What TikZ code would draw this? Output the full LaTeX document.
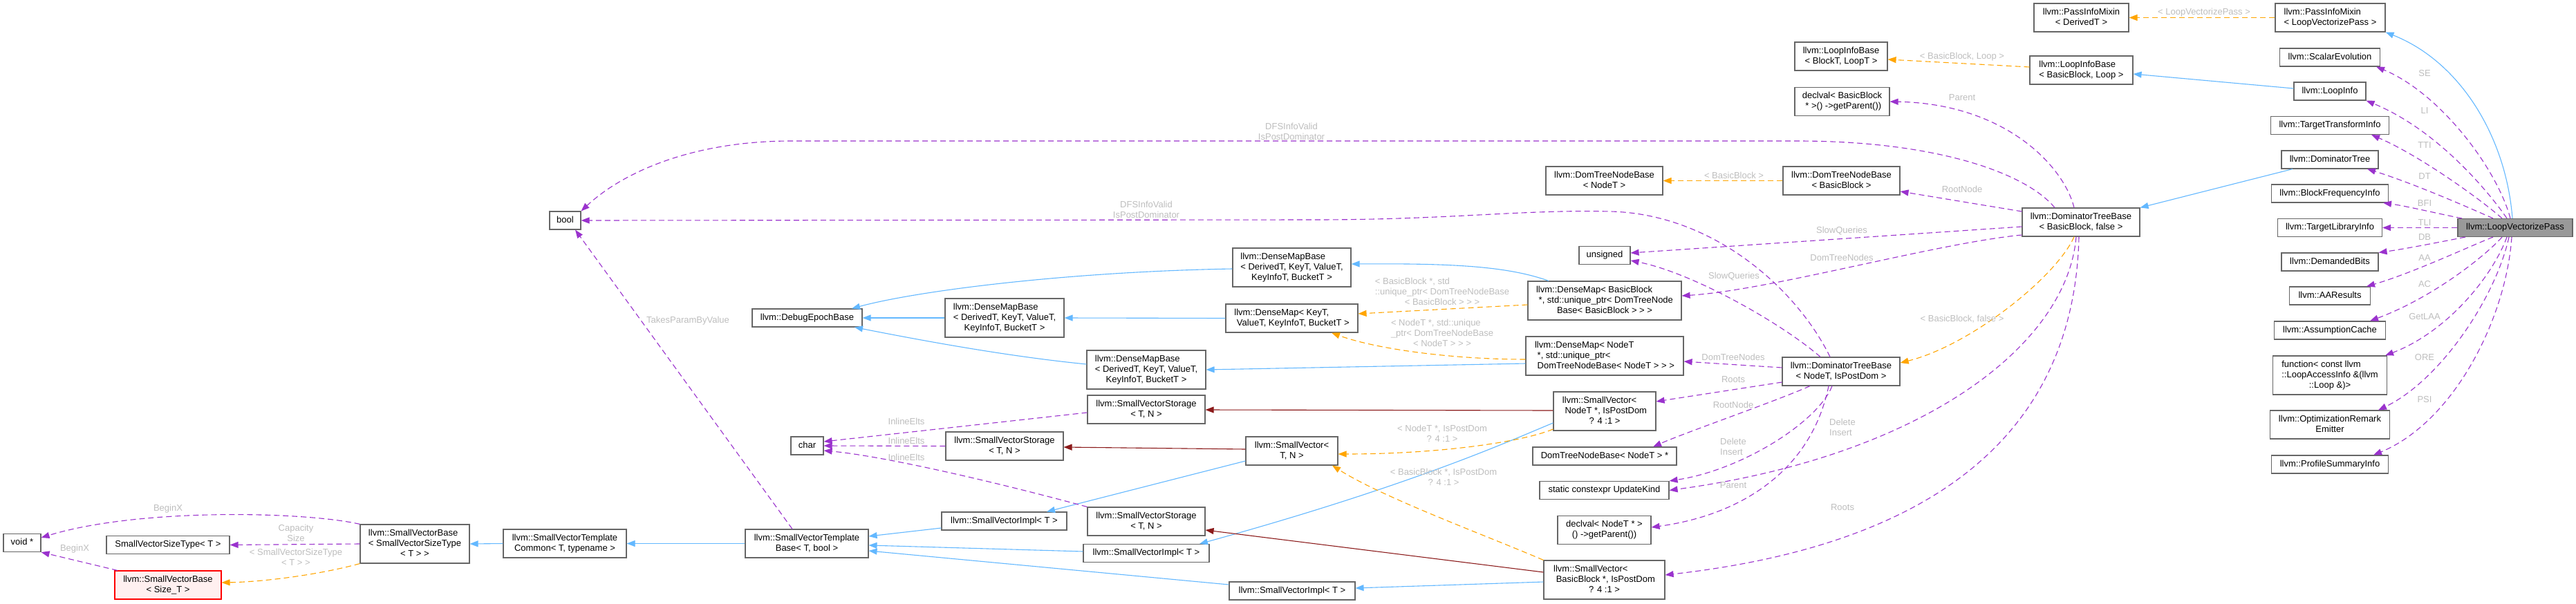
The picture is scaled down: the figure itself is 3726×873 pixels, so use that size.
\documentclass[tikz,border=0pt]{standalone}
\usepackage{fontspec}
\setmainfont[Ligatures=CommonOff]{Liberation Sans}
\usetikzlibrary{arrows.meta}
\definecolor{cMem}{HTML}{9A32CD}
\definecolor{cInh}{HTML}{63B8FF}
\definecolor{cTpl}{HTML}{FFA500}
\definecolor{cUse}{HTML}{8B1A1A}
\definecolor{cBrd}{HTML}{666666}
\definecolor{cLbl}{HTML}{BEBEBE}
\definecolor{cHl}{HTML}{999999}
\definecolor{cRedFill}{HTML}{FFF0F0}
\newcommand{\mlab}[1]{\begin{tabular}{@{}l@{}}#1\end{tabular}}
\newcommand{\lastc}[1]{\multicolumn{1}{@{}c@{}}{#1}}
\begin{document}
\begin{tikzpicture}[x=1pt,y=-1pt,font=\fontsize{13}{15}\selectfont,
  nbox/.style={draw=cBrd,line width=1.1pt,fill=white,inner sep=0pt,text=black},
  elab/.style={text=cLbl,inner sep=0pt},
  arr/.style={-{Triangle[length=12pt,width=9pt]}},
  mem/.style={draw=cMem,line width=1.1pt,dash pattern=on 8pt off 5pt,arr},
  tpl/.style={draw=cTpl,line width=1.1pt,dash pattern=on 8pt off 5pt,arr},
  inh/.style={draw=cInh,line width=1.1pt,arr},
  usg/.style={draw=cUse,line width=1.1pt,arr}]
\fill[white] (0,0) rectangle (3726,873);
\useasboundingbox (0,0) rectangle (3726,873);

% ---------- nodes ----------
\node[nbox,fill=cHl,minimum width=166pt,minimum height=26pt] (lvp) at (3638,329.5) {\mlab{llvm::LoopVectorizePass}};
\node[nbox,minimum width=159pt,minimum height=41pt] (pimLVP) at (3370.5,25.5) {\mlab{llvm::PassInfoMixin\\\lastc{< LoopVectorizePass >}}};
\node[nbox,minimum width=145pt,minimum height=26pt] (se) at (3370,83) {\mlab{llvm::ScalarEvolution}};
\node[nbox,minimum width=104pt,minimum height=26pt] (li) at (3370,132) {\mlab{llvm::LoopInfo}};
\node[nbox,minimum width=171pt,minimum height=26pt] (tti) at (3370,181.5) {\mlab{llvm::TargetTransformInfo}};
\node[nbox,minimum width=140pt,minimum height=26pt] (dt) at (3370,231) {\mlab{llvm::DominatorTree}};
\node[nbox,minimum width=169pt,minimum height=26pt] (bfi) at (3370,280) {\mlab{llvm::BlockFrequencyInfo}};
\node[nbox,minimum width=151pt,minimum height=26pt] (tli) at (3370,329.5) {\mlab{llvm::TargetLibraryInfo}};
\node[nbox,minimum width=140pt,minimum height=26pt] (db) at (3370,379) {\mlab{llvm::DemandedBits}};
\node[nbox,minimum width=117pt,minimum height=26pt] (aa) at (3370,428) {\mlab{llvm::AAResults}};
\node[nbox,minimum width=161pt,minimum height=26pt] (ac) at (3370,478) {\mlab{llvm::AssumptionCache}};
\node[nbox,minimum width=165pt,minimum height=56pt] (fn) at (3370,543) {\mlab{function< const llvm\\::LoopAccessInfo \&(llvm\\\lastc{::Loop \&)>}}};
\node[nbox,minimum width=173pt,minimum height=41pt] (ore) at (3370,614.5) {\mlab{llvm::OptimizationRemark\\\lastc{Emitter}}};
\node[nbox,minimum width=169pt,minimum height=26pt] (psi) at (3370,672) {\mlab{llvm::ProfileSummaryInfo}};

\node[nbox,minimum width=137pt,minimum height=41pt] (pimD) at (3010.5,25.5) {\mlab{llvm::PassInfoMixin\\\lastc{< DerivedT >}}};
\node[nbox,minimum width=149pt,minimum height=41pt] (libBB) at (3010.5,101.5) {\mlab{llvm::LoopInfoBase\\\lastc{< BasicBlock, Loop >}}};
\node[nbox,minimum width=170pt,minimum height=41pt] (dtbBB) at (3010,321.5) {\mlab{llvm::DominatorTreeBase\\\lastc{< BasicBlock, false >}}};

\node[nbox,minimum width=134pt,minimum height=41pt] (libT) at (2663,81.5) {\mlab{llvm::LoopInfoBase\\\lastc{< BlockT, LoopT >}}};
\node[nbox,minimum width=137pt,minimum height=41pt] (declBB) at (2664.5,147) {\mlab{declval< BasicBlock\\\lastc{\ * >() ->getParent())}}};
\node[nbox,minimum width=169pt,minimum height=41pt] (dtnbBB) at (2663.5,261.5) {\mlab{llvm::DomTreeNodeBase\\\lastc{< BasicBlock >}}};
\node[nbox,minimum width=170pt,minimum height=41pt] (dtbN) at (2663,537.5) {\mlab{llvm::DominatorTreeBase\\\lastc{< NodeT, IsPostDom >}}};

\node[nbox,minimum width=169pt,minimum height=41pt] (dtnbN) at (2320.5,261.5) {\mlab{llvm::DomTreeNodeBase\\\lastc{< NodeT >}}};
\node[nbox,minimum width=74pt,minimum height=26pt] (uns) at (2321,369.5) {\mlab{unsigned}};
\node[nbox,minimum width=222pt,minimum height=56pt] (dmBB) at (2321,435) {\mlab{llvm::DenseMap< BasicBlock\\\ *, std::unique\_ptr< DomTreeNode\\\lastc{Base< BasicBlock > > >}}};
\node[nbox,minimum width=228pt,minimum height=56pt] (dmN) at (2321,515) {\mlab{llvm::DenseMap< NodeT\\\ *, std::unique\_ptr<\\\lastc{\ DomTreeNodeBase< NodeT > > >}}};
\node[nbox,minimum width=148pt,minimum height=56pt] (svN) at (2321,595) {\mlab{llvm::SmallVector<\\\ NodeT *, IsPostDom\\\lastc{? 4 :1 >}}};
\node[nbox,minimum width=208pt,minimum height=26pt] (dtnbNp) at (2321,660) {\mlab{DomTreeNodeBase< NodeT > *}};
\node[nbox,minimum width=187pt,minimum height=26pt] (uk) at (2320.5,709.5) {\mlab{static constexpr UpdateKind}};
\node[nbox,minimum width=135pt,minimum height=41pt] (declN) at (2320.5,767) {\mlab{declval< NodeT * >\\\lastc{() ->getParent())}}};
\node[nbox,minimum width=175pt,minimum height=56pt] (svBB) at (2320.5,839) {\mlab{llvm::SmallVector<\\\ BasicBlock *, IsPostDom\\\lastc{? 4 :1 >}}};

\node[nbox,minimum width=171pt,minimum height=56pt] (dmb1) at (1868.5,387) {\mlab{llvm::DenseMapBase\\< DerivedT, KeyT, ValueT,\\\lastc{KeyInfoT, BucketT >}}};
\node[nbox,minimum width=191pt,minimum height=41pt] (dmK) at (1868.5,460.5) {\mlab{llvm::DenseMap< KeyT,\\\lastc{\ ValueT, KeyInfoT, BucketT >}}};
\node[nbox,minimum width=133pt,minimum height=41pt] (sv) at (1868.5,652.5) {\mlab{llvm::SmallVector<\\\lastc{T, N >}}};
\node[nbox,minimum width=182pt,minimum height=26pt] (sviC) at (1869,855) {\mlab{llvm::SmallVectorImpl< T >}};

\node[nbox,minimum width=172pt,minimum height=56pt] (dmb3) at (1658,535) {\mlab{llvm::DenseMapBase\\< DerivedT, KeyT, ValueT,\\\lastc{KeyInfoT, BucketT >}}};
\node[nbox,minimum width=170pt,minimum height=41pt] (svsA) at (1658,592.5) {\mlab{llvm::SmallVectorStorage\\\lastc{< T, N >}}};
\node[nbox,minimum width=170pt,minimum height=41pt] (svsC) at (1658,754.5) {\mlab{llvm::SmallVectorStorage\\\lastc{< T, N >}}};
\node[nbox,minimum width=182pt,minimum height=26pt] (sviB) at (1658,800.5) {\mlab{llvm::SmallVectorImpl< T >}};

\node[nbox,minimum width=172pt,minimum height=56pt] (dmb2) at (1453,460) {\mlab{llvm::DenseMapBase\\< DerivedT, KeyT, ValueT,\\\lastc{KeyInfoT, BucketT >}}};
\node[nbox,minimum width=170pt,minimum height=41pt] (svsB) at (1453,645.5) {\mlab{llvm::SmallVectorStorage\\\lastc{< T, N >}}};
\node[nbox,minimum width=181pt,minimum height=26pt] (sviA) at (1452.5,754) {\mlab{llvm::SmallVectorImpl< T >}};

\node[nbox,minimum width=159pt,minimum height=26pt] (deb) at (1167.5,460) {\mlab{llvm::DebugEpochBase}};
\node[nbox,minimum width=47pt,minimum height=26pt] (chr) at (1167.5,645) {\mlab{char}};
\node[nbox,minimum width=178pt,minimum height=41pt] (svtb) at (1167,786.5) {\mlab{llvm::SmallVectorTemplate\\\lastc{Base< T, bool >}}};

\node[nbox,minimum width=45pt,minimum height=26pt] (nbool) at (817.5,319) {\mlab{bool}};
\node[nbox,minimum width=178pt,minimum height=41pt] (svtc) at (817,786.5) {\mlab{llvm::SmallVectorTemplate\\\lastc{Common< T, typename >}}};

\node[nbox,minimum width=158pt,minimum height=56pt] (svbS) at (600,787) {\mlab{llvm::SmallVectorBase\\< SmallVectorSizeType\\\lastc{< T > >}}};
\node[nbox,minimum width=178pt,minimum height=26pt] (svst) at (243,788.5) {\mlab{SmallVectorSizeType< T >}};
\node[nbox,draw=red,fill=cRedFill,minimum width=154pt,minimum height=41pt] (svbT) at (243,846.5) {\mlab{llvm::SmallVectorBase\\\lastc{< Size\_T >}}};
\node[nbox,minimum width=54pt,minimum height=26pt] (voidp) at (32,785.5) {\mlab{void *}};

% ---------- edges from LoopVectorizePass ----------
\draw[inh] (3634,0 |- lvp.north) .. controls (3625,200) and (3560,90) .. (pimLVP.south east);
\draw[mem] (3631,0 |- lvp.north) .. controls (3612,245) and (3530,135) .. (3437,0 |- se.south);
\draw[mem] (3626,0 |- lvp.north) .. controls (3605,285) and (3530,190) .. (li.south east);
\draw[mem] (3619,0 |- lvp.north) .. controls (3590,290) and (3500,225) .. (3430,0 |- tti.south);
\draw[mem] (3606,0 |- lvp.north) .. controls (3570,300) and (3490,265) .. (3424,0 |- dt.south);
\draw[mem] (3561,0 |- lvp.north) .. controls (3530,310) and (3480,298) .. (3447,0 |- bfi.south);
\draw[mem] (lvp.west) -- (tli.east);
\draw[mem] (3566,0 |- lvp.south) .. controls (3530,350) and (3480,360) .. (db.north east);
\draw[mem] (3606,0 |- lvp.south) .. controls (3575,355) and (3490,395) .. (3423,0 |- aa.north);
\draw[mem] (3619,0 |- lvp.south) .. controls (3595,370) and (3520,430) .. (3428,0 |- ac.north);
\draw[mem] (3626,0 |- lvp.south) .. controls (3605,400) and (3540,480) .. (3450,0 |- fn.north);
\draw[mem] (3629,0 |- lvp.south) .. controls (3610,430) and (3530,550) .. (3440,0 |- ore.north);
\draw[mem] (3633,0 |- lvp.south) .. controls (3625,460) and (3550,610) .. (3433,0 |- psi.north);

% ---------- other edges ----------
\draw[tpl] (pimLVP.west) -- (pimD.east);
\draw[inh] (li.west |- 0,128) -- (libBB.east |- 0,107);
\draw[tpl] (libBB.west |- 0,97) -- (libT.east |- 0,86);
\draw[inh] (3316,0 |- dt.south) -- (dtbBB.north east);

\draw[mem] (3000,0 |- dtbBB.north) .. controls (2985,240) and (2900,150) .. (declBB.east);
\draw[mem] (2972,0 |- dtbBB.north) .. controls (2930,250) and (2800,204) .. (2600,204) -- (1145,204) .. controls (1000,204) and (900,250) .. (nbool.north east);
\draw[mem] (dtbBB.west |- 0,306) -- (dtnbBB.east |- 0,277);
\draw[mem] (dtbBB.west |- 0,328) -- (uns.east |- 0,366);
\draw[mem] (dtbBB.west |- 0,340) .. controls (2800,352) and (2560,420) .. (dmBB.east |- 0,428);
\draw[tpl] (3000,0 |- dtbBB.south) .. controls (2975,400) and (2850,500) .. (dtbN.east |- 0,525);
\draw[mem] (3003,0 |- dtbBB.south) .. controls (2990,500) and (2780,660) .. (uk.east);
\draw[mem] (3007,0 |- dtbBB.south) .. controls (3000,640) and (2780,790) .. (svBB.east |- 0,832);

\draw[mem] (dtbN.west |- 0,532) -- (dmN.east |- 0,523);
\draw[mem] (dtbN.west |- 0,553) -- (svN.east |- 0,581);
\draw[mem] (2618,0 |- dtbN.south) .. controls (2570,580) and (2440,625) .. (2391,0 |- dtnbNp.north);
\draw[mem] (2650,0 |- dtbN.south) .. controls (2630,610) and (2520,680) .. (uk.north east);
\draw[mem] (2645,0 |- dtbN.south) .. controls (2620,680) and (2520,745) .. (declN.east |- 0,763);
\draw[mem] (2633,0 |- dtbN.north) .. controls (2580,470) and (2450,395) .. (uns.east |- 0,377);
\draw[mem] (2647,0 |- dtbN.north) .. controls (2600,420) and (2480,310) .. (2330,306) .. controls (2200,303) and (2100,318) .. (1900,318) -- (nbool.east);

\draw[tpl] (dtnbBB.west) -- (dtnbN.east);

\draw[tpl] (dmBB.west |- 0,441) -- (dmK.east |- 0,454);
\draw[inh] (2240,0 |- dmBB.north) .. controls (2180,385) and (2100,381) .. (dmb1.east |- 0,382);
\draw[tpl] (dmN.west |- 0,520) .. controls (2100,520) and (1990,505) .. (1926,0 |- dmK.south);
\draw[inh] (dmN.west |- 0,526) -- (dmb3.east |- 0,535);
\draw[inh] (dmK.west) -- (dmb2.east);
\draw[inh] (dmb1.west |- 0,389) .. controls (1550,393) and (1330,420) .. (1232,0 |- deb.north);
\draw[inh] (dmb2.west) -- (deb.east);
\draw[inh] (dmb3.west |- 0,527) .. controls (1450,515) and (1320,490) .. (1236,0 |- deb.south);

\draw[usg] (svN.west |- 0,594) -- (svsA.east |- 0,593);
\draw[inh] (svN.west |- 0,612) .. controls (2190,635) and (2050,700) .. (1735,0 |- sviB.north);
\draw[tpl] (svN.west |- 0,621) .. controls (2200,640) and (2080,657) .. (sv.east |- 0,657);
\draw[tpl] (svBB.north west) .. controls (2150,775) and (2000,720) .. (1927,0 |- sv.south);
\draw[usg] (svBB.west |- 0,828) -- (svsC.east |- 0,767);
\draw[inh] (svBB.west |- 0,842) -- (sviC.east |- 0,851);
\draw[usg] (sv.west |- 0,650) -- (svsB.east |- 0,647);
\draw[inh] (sv.west |- 0,667) -- (1514,0 |- sviA.north);

\draw[mem] (svsA.west |- 0,597) -- (chr.east |- 0,639);
\draw[mem] (svsB.west) -- (chr.east);
\draw[mem] (svsC.north west) .. controls (1450,700) and (1280,660) .. (chr.east |- 0,652);

\draw[inh] (sviA.west |- 0,764) -- (svtb.east |- 0,776);
\draw[inh] (sviB.west |- 0,798) -- (svtb.east |- 0,789);
\draw[inh] (sviC.west |- 0,846) -- (svtb.east |- 0,797);
\draw[inh] (svtb.west) -- (svtc.east);
\draw[mem] (1146,0 |- svtb.north) -- (832,0 |- nbool.south);
\draw[inh] (svtc.west) -- (svbS.east);

\draw[mem] (svbS.north west) .. controls (440,740) and (200,735) .. (voidp.east |- 0,778);
\draw[mem] (svbS.west) -- (svst.east);
\draw[tpl] (svbS.south west) .. controls (460,832) and (380,842) .. (svbT.east |- 0,843);
\draw[mem] (170,0 |- svbT.north) -- (voidp.south east);

% ---------- edge labels ----------
\node[elab] (lSE) at (3507,106) {SE};
\node[elab] (lLI) at (3507,160) {LI};
\node[elab] (lTTI) at (3507,210) {TTI};
\node[elab] (lDT) at (3507,255) {DT};
\node[elab] (lBFI) at (3507,294) {BFI};
\node[elab] (lTLI) at (3507,322) {TLI};
\node[elab] (lDB) at (3507,343) {DB};
\node[elab] (lAA) at (3507,373) {AA};
\node[elab] (lAC) at (3507,411) {AC};
\node[elab] (lGL) at (3507,458) {GetLAA};
\node[elab] (lORE) at (3507,517) {ORE};
\node[elab] (lPSI) at (3507,578) {PSI};

\node[elab] (lb1) at (3188,18) {\mlab{< LoopVectorizePass >}};
\node[elab] (lb2) at (2838,82) {\mlab{< BasicBlock, Loop >}};
\node[elab] (lb3) at (2838,142) {\mlab{Parent}};
\node[elab] (lb4) at (2838,275) {\mlab{RootNode}};
\node[elab] (lb5) at (2664,334) {\mlab{SlowQueries}};
\node[elab] (lb6) at (2664,374) {\mlab{DomTreeNodes}};
\node[elab] (lb7) at (2508,255) {\mlab{< BasicBlock >}};
\node[elab] (lb8) at (2508,400) {\mlab{SlowQueries}};
\node[elab] (lb9) at (1868,191.5) {\mlab{\lastc{DFSInfoValid}\\\lastc{IsPostDominator}}};
\node[elab] (lb10) at (1658,304.5) {\mlab{\lastc{DFSInfoValid}\\\lastc{IsPostDominator}}};
\node[elab] (lb11) at (2086,423) {\mlab{< BasicBlock *, std\\::unique\_ptr< DomTreeNodeBase\\\lastc{< BasicBlock > > >}}};
\node[elab] (lb12) at (2086,483) {\mlab{< NodeT *, std::unique\\\_ptr< DomTreeNodeBase\\\lastc{< NodeT > > >}}};
\node[elab] (lb13) at (2838,462) {\mlab{< BasicBlock, false >}};
\node[elab] (lb14) at (2507,518) {\mlab{DomTreeNodes}};
\node[elab] (lb15) at (2507,550) {\mlab{Roots}};
\node[elab] (lb16) at (2507,587) {\mlab{RootNode}};
\node[elab] (lb17) at (2507,648) {\mlab{Delete\\Insert}};
\node[elab] (lb18) at (2507,703) {\mlab{Parent}};
\node[elab] (lb19) at (2665,620) {\mlab{Delete\\Insert}};
\node[elab] (lb20) at (2665,735) {\mlab{Roots}};
\node[elab] (lb21) at (2086,628.5) {\mlab{< NodeT *, IsPostDom\\\lastc{? 4 :1 >}}};
\node[elab] (lb22) at (2088,691.5) {\mlab{< BasicBlock *, IsPostDom\\\lastc{? 4 :1 >}}};
\node[elab] (lb23) at (1311,611) {\mlab{InlineElts}};
\node[elab] (lb24) at (1311,639) {\mlab{InlineElts}};
\node[elab] (lb25) at (1311,663) {\mlab{InlineElts}};
\node[elab] (lb26) at (995,464) {\mlab{TakesParamByValue}};
\node[elab] (lb27) at (243,736) {\mlab{BeginX}};
\node[elab] (lb28) at (108,794) {\mlab{BeginX}};
\node[elab] (lb29) at (428,772.5) {\mlab{\lastc{Capacity}\\\lastc{Size}}};
\node[elab] (lb30) at (428,807.5) {\mlab{< SmallVectorSizeType\\\lastc{< T > >}}};
\end{tikzpicture}
\end{document}
